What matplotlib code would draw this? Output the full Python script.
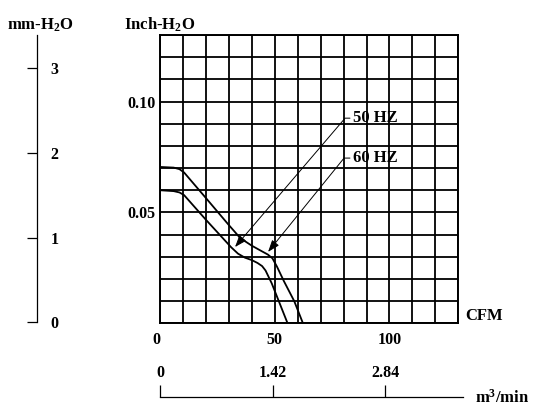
import numpy as np
import matplotlib
matplotlib.use("Agg")
import matplotlib.pyplot as plt

plt.rcParams['font.family'] = ['Liberation Serif', 'DejaVu Serif']
plt.rcParams['font.weight'] = 'bold'
plt.rcParams['mathtext.fontset'] = 'custom'
plt.rcParams['mathtext.rm'] = 'Liberation Serif:bold'
plt.rcParams['mathtext.bf'] = 'Liberation Serif:bold'
plt.rcParams['mathtext.it'] = 'Liberation Serif:bold'

# fan curves, CFM vs inch H2O
cfm_50 = [0, 6, 8.5, 10.5, 20, 31, 34, 37, 40, 42.5, 44.5, 46, 48.7, 55.6]
p_50 = [0.0600, 0.0596, 0.0590, 0.0578, 0.0467, 0.0343, 0.0314, 0.0296, 0.0285,
        0.0272, 0.0258, 0.0238, 0.0180, 0.0]
cfm_60 = [0, 6, 8.5, 10.5, 20, 30, 35, 40, 44, 47, 49, 51, 54, 58.5, 62.3]
p_60 = [0.0705, 0.0702, 0.0695, 0.0680, 0.0565, 0.0443, 0.0384, 0.0350, 0.0327,
        0.0310, 0.0293, 0.0255, 0.0190, 0.0100, 0.0]

cfm_ticks = [0, 50, 100]
inch_ticks = [0.05, 0.10]
inch_labels = ['0.05', '0.10']
mm_ticks = [0, 1, 2, 3]
m3_ticks = [0, 1.42, 2.84]
m3_labels = ['0', '1.42', '2.84']

W, H = 534, 411
fig = plt.figure(figsize=(W / 100, H / 100), dpi=100)

def rect(x0, y0, x1, y1):
    return [x0 / W, 1 - y1 / H, (x1 - x0) / W, (y1 - y0) / H]

# main grid chart
ax = fig.add_axes(rect(160, 35, 458.3, 323.3))
ax.set_xlim(0, 130)
ax.set_ylim(0, 0.13)
gx = np.arange(0, 131, 10)
gy = np.round(np.arange(0, 0.1301, 0.01), 2)
ax.set_xticks(gx, [str(v) if v in cfm_ticks else '' for v in gx])
ax.set_yticks(gy, [inch_labels[inch_ticks.index(v)] if v in inch_ticks else '' for v in gy])
ax.grid(True, color='black', lw=1.3)
ax.tick_params(length=0, labelsize=11.5)
ax.tick_params(axis='x', pad=6)
ax.tick_params(axis='y', pad=3.5)
ax.get_xticklabels()[0].set_horizontalalignment('right')
for s in ax.spines.values():
    s.set_linewidth(1.4)

ax.plot(cfm_50, p_50, color='black', lw=1.3)
ax.plot(cfm_60, p_60, color='black', lw=1.3)

arrow = dict(arrowstyle='-|>,head_length=0.6,head_width=0.22', color='black', lw=0.7,
             shrinkA=0, shrinkB=0, relpos=(0, 0.5))
ax.annotate('50 HZ', xy=(32.7, 0.0344), xytext=(84, 0.0925), fontsize=12,
            va='center', ha='left',
            arrowprops=dict(arrow, connectionstyle='angle,angleA=0,angleB=49.5,rad=0'))
ax.annotate('60 HZ', xy=(47.1, 0.0322), xytext=(84, 0.0745), fontsize=12,
            va='center', ha='left',
            arrowprops=dict(arrow, connectionstyle='angle,angleA=0,angleB=51,rad=0'))

ax.text(0, 1.0174, 'Inch-H$_2$O', transform=ax.transAxes, ha='center', va='baseline', fontsize=12)
ax.text(1.022, 0.025, 'CFM', transform=ax.transAxes, ha='left', va='center', fontsize=12)

# mm-H2O scale
ax_mm = fig.add_axes(rect(37, 35, 38, 322.3))
ax_mm.set_ylim(0, 3.393)
ax_mm.set_xticks([])
ax_mm.set_yticks(mm_ticks, [str(v) for v in mm_ticks])
for k in ['top', 'right', 'bottom']:
    ax_mm.spines[k].set_visible(False)
ax_mm.spines['left'].set_linewidth(0.9)
ax_mm.patch.set_visible(False)
ax_mm.tick_params(axis='y', direction='out', length=7.2, width=0.9, left=True,
                  right=False, labelleft=False, labelright=True, pad=2, labelsize=11.5)
fig.text(40 / W, 1 - 30 / H, 'mm-H$_2$O', ha='center', va='baseline', fontsize=12)

# m3/min scale
ax_m3 = fig.add_axes(rect(160, 396, 463, 396.7))
ax_m3.set_xlim(0, 3.824)
ax_m3.set_yticks([])
ax_m3.set_xticks(m3_ticks, m3_labels)
for k in ['top', 'right', 'left']:
    ax_m3.spines[k].set_visible(False)
ax_m3.spines['bottom'].set_linewidth(0.9)
ax_m3.patch.set_visible(False)
ax_m3.tick_params(axis='x', direction='in', length=8.6, width=0.9, bottom=True,
                  top=False, labelbottom=False, labeltop=True, pad=11, labelsize=11.5)
fig.text(475 / W, 1 - 398 / H, 'm$^3$/min', ha='left', va='center', fontsize=12)

fig.savefig('out.png', dpi=100)
